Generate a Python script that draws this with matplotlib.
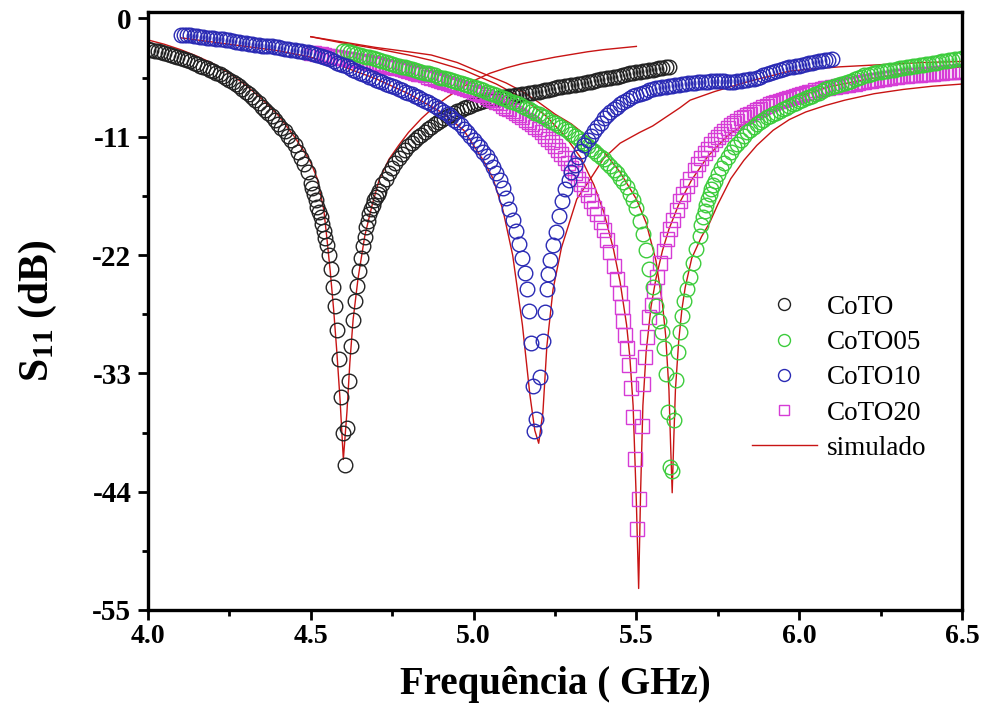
import numpy as np
import matplotlib
matplotlib.use("Agg")
import matplotlib.pyplot as plt

plt.rcParams['font.family'] = ['Liberation Serif', 'DejaVu Serif']
plt.rcParams['mathtext.fontset'] = 'custom'
plt.rcParams['mathtext.rm'] = 'Liberation Serif:bold'
plt.rcParams['mathtext.it'] = 'Liberation Serif:bold'
plt.rcParams['mathtext.bf'] = 'Liberation Serif:bold'
plt.rcParams['axes.unicode_minus'] = False

coto = [
    (4.00, -2.8), (4.01, -2.9), (4.02, -3.0), (4.03, -3.05), (4.04, -3.1), (4.05, -3.2), (4.06, -3.3),
    (4.07, -3.4), (4.08, -3.5), (4.09, -3.6), (4.10, -3.7), (4.11, -3.8), (4.12, -3.9), (4.13, -4.0),
    (4.14, -4.1), (4.15, -4.25), (4.16, -4.4), (4.17, -4.5), (4.18, -4.6), (4.19, -4.75), (4.20, -4.9),
    (4.21, -5.05), (4.22, -5.2), (4.23, -5.35), (4.24, -5.5), (4.25, -5.7), (4.26, -5.9), (4.27, -6.1),
    (4.28, -6.3), (4.29, -6.55), (4.30, -6.8), (4.31, -7.05), (4.32, -7.3), (4.33, -7.6), (4.34, -7.9),
    (4.35, -8.2), (4.36, -8.5), (4.37, -8.8), (4.38, -9.1), (4.39, -9.45), (4.40, -9.8), (4.41, -10.15),
    (4.42, -10.5), (4.43, -10.9), (4.44, -11.3), (4.45, -11.8), (4.46, -12.4), (4.47, -13.0), (4.48, -13.5),
    (4.49, -14.3), (4.50, -15.3), (4.505, -15.8), (4.51, -16.3), (4.515, -16.9), (4.52, -17.5), (4.525, -18.0),
    (4.53, -18.5), (4.535, -19.1), (4.54, -19.8), (4.545, -20.4), (4.55, -21.1), (4.556, -22.0), (4.562, -23.3),
    (4.568, -25.0), (4.574, -26.7), (4.58, -29.0), (4.586, -31.7), (4.592, -35.2), (4.598, -38.5), (4.604, -41.5),
    (4.610, -38.1), (4.617, -33.7), (4.623, -30.5), (4.630, -28.0), (4.636, -26.3), (4.642, -24.9), (4.648, -23.5),
    (4.654, -22.3), (4.660, -21.2), (4.665, -20.3), (4.670, -19.4), (4.675, -18.8), (4.680, -18.2), (4.685, -17.7),
    (4.690, -17.3), (4.695, -16.9), (4.700, -16.6), (4.705, -16.3), (4.710, -16.0), (4.72, -15.4), (4.73, -14.9),
    (4.74, -14.4), (4.75, -13.9), (4.76, -13.4), (4.77, -13.0), (4.78, -12.6), (4.79, -12.25), (4.80, -11.9),
    (4.81, -11.6), (4.82, -11.3), (4.83, -11.05), (4.84, -10.8), (4.85, -10.55), (4.86, -10.3), (4.87, -10.05),
    (4.88, -9.8), (4.89, -9.6), (4.90, -9.4), (4.91, -9.25), (4.92, -9.1), (4.93, -8.95), (4.94, -8.8),
    (4.95, -8.65), (4.96, -8.5), (4.97, -8.35), (4.98, -8.2), (4.99, -8.1), (5.00, -8.0), (5.01, -7.9),
    (5.02, -7.8), (5.03, -7.7), (5.04, -7.6), (5.05, -7.55), (5.06, -7.5), (5.07, -7.45), (5.08, -7.4),
    (5.09, -7.35), (5.10, -7.3), (5.11, -7.25), (5.12, -7.2), (5.13, -7.15), (5.14, -7.1), (5.15, -7.05),
    (5.16, -7.0), (5.17, -6.95), (5.18, -6.9), (5.19, -6.85), (5.20, -6.8), (5.21, -6.75), (5.22, -6.7),
    (5.23, -6.65), (5.24, -6.6), (5.25, -6.5), (5.26, -6.4), (5.27, -6.35), (5.28, -6.3), (5.29, -6.25),
    (5.30, -6.2), (5.31, -6.15), (5.32, -6.1), (5.33, -6.05), (5.34, -6.0), (5.35, -5.95), (5.36, -5.9),
    (5.37, -5.8), (5.38, -5.7), (5.39, -5.65), (5.40, -5.6), (5.41, -5.55), (5.42, -5.5), (5.43, -5.45),
    (5.44, -5.4), (5.45, -5.35), (5.46, -5.3), (5.47, -5.2), (5.48, -5.1), (5.49, -5.05), (5.50, -5.0),
    (5.51, -4.95), (5.52, -4.9), (5.53, -4.85), (5.54, -4.8), (5.55, -4.75), (5.56, -4.7), (5.57, -4.65),
    (5.58, -4.6), (5.59, -4.55), (5.60, -4.5),
]

coto05 = [
    (4.60, -3.0), (4.61, -3.05), (4.62, -3.1), (4.63, -3.2), (4.64, -3.3), (4.65, -3.4), (4.66, -3.5),
    (4.67, -3.55), (4.68, -3.6), (4.69, -3.7), (4.70, -3.8), (4.71, -3.9), (4.72, -4.0), (4.73, -4.05),
    (4.74, -4.1), (4.75, -4.2), (4.76, -4.3), (4.77, -4.4), (4.78, -4.5), (4.79, -4.55), (4.80, -4.6),
    (4.81, -4.7), (4.82, -4.8), (4.83, -4.9), (4.84, -5.0), (4.85, -5.05), (4.86, -5.1), (4.87, -5.2),
    (4.88, -5.3), (4.89, -5.4), (4.90, -5.5), (4.91, -5.55), (4.92, -5.6), (4.93, -5.7), (4.94, -5.8),
    (4.95, -5.9), (4.96, -6.0), (4.97, -6.1), (4.98, -6.2), (4.99, -6.3), (5.00, -6.4), (5.01, -6.5),
    (5.02, -6.6), (5.03, -6.7), (5.04, -6.8), (5.05, -6.9), (5.06, -7.0), (5.07, -7.15), (5.08, -7.3),
    (5.09, -7.4), (5.10, -7.5), (5.11, -7.65), (5.12, -7.8), (5.13, -7.9), (5.14, -8.0), (5.15, -8.15),
    (5.16, -8.3), (5.17, -8.45), (5.18, -8.6), (5.19, -8.75), (5.20, -8.9), (5.21, -9.05), (5.22, -9.2),
    (5.23, -9.4), (5.24, -9.6), (5.25, -9.75), (5.26, -9.9), (5.27, -10.1), (5.28, -10.3), (5.29, -10.5),
    (5.30, -10.7), (5.31, -10.9), (5.32, -11.1), (5.33, -11.35), (5.34, -11.6), (5.35, -11.85), (5.36, -12.1),
    (5.37, -12.35), (5.38, -12.6), (5.39, -12.85), (5.40, -13.1), (5.41, -13.4), (5.42, -13.7), (5.43, -14.05),
    (5.44, -14.4), (5.45, -14.8), (5.46, -15.2), (5.47, -15.7), (5.48, -16.3), (5.49, -16.9), (5.50, -17.6),
    (5.51, -18.8), (5.52, -20.0), (5.53, -21.5), (5.54, -23.3), (5.55, -25.0), (5.56, -26.7), (5.57, -28.1),
    (5.578, -29.2), (5.584, -30.6), (5.59, -33.1), (5.597, -36.6), (5.603, -41.7), (5.610, -42.1), (5.616, -37.3),
    (5.622, -33.6), (5.628, -31.0), (5.634, -29.2), (5.640, -27.7), (5.646, -26.3), (5.654, -25.2), (5.664, -24.0),
    (5.674, -22.7), (5.684, -21.4), (5.694, -20.2), (5.70, -19.2), (5.705, -18.5), (5.71, -17.9), (5.715, -17.3),
    (5.72, -16.8), (5.725, -16.3), (5.73, -15.9), (5.735, -15.5), (5.74, -15.1), (5.75, -14.5), (5.76, -13.9),
    (5.77, -13.4), (5.78, -12.9), (5.79, -12.45), (5.80, -12.0), (5.81, -11.65), (5.82, -11.3), (5.83, -10.95),
    (5.84, -10.6), (5.85, -10.35), (5.86, -10.1), (5.87, -9.85), (5.88, -9.6), (5.89, -9.4), (5.90, -9.2),
    (5.91, -9.05), (5.92, -8.9), (5.93, -8.75), (5.94, -8.6), (5.95, -8.45), (5.96, -8.3), (5.97, -8.15),
    (5.98, -8.0), (5.99, -7.85), (6.00, -7.7), (6.01, -7.55), (6.02, -7.4), (6.03, -7.3), (6.04, -7.2),
    (6.05, -7.05), (6.06, -6.9), (6.07, -6.75), (6.08, -6.6), (6.09, -6.5), (6.10, -6.4), (6.11, -6.3),
    (6.12, -6.2), (6.13, -6.1), (6.14, -6.0), (6.15, -5.9), (6.16, -5.8), (6.17, -5.65), (6.18, -5.5),
    (6.19, -5.4), (6.20, -5.3), (6.21, -5.25), (6.22, -5.2), (6.23, -5.1), (6.24, -5.0), (6.25, -4.95),
    (6.26, -4.9), (6.27, -4.85), (6.28, -4.8), (6.29, -4.75), (6.30, -4.7), (6.31, -4.65), (6.32, -4.6),
    (6.33, -4.55), (6.34, -4.5), (6.35, -4.45), (6.36, -4.4), (6.37, -4.35), (6.38, -4.3), (6.39, -4.25),
    (6.40, -4.2), (6.41, -4.15), (6.42, -4.1), (6.43, -4.05), (6.44, -4.0), (6.45, -3.95), (6.46, -3.9),
    (6.47, -3.85), (6.48, -3.8), (6.49, -3.75), (6.50, -3.7),
]

coto10 = [
    (4.10, -1.5), (4.11, -1.52), (4.12, -1.55), (4.13, -1.58), (4.14, -1.6), (4.15, -1.65), (4.16, -1.7),
    (4.17, -1.75), (4.18, -1.8), (4.19, -1.82), (4.20, -1.85), (4.21, -1.88), (4.22, -1.9), (4.23, -1.95),
    (4.24, -2.0), (4.25, -2.05), (4.26, -2.1), (4.27, -2.15), (4.28, -2.2), (4.29, -2.25), (4.30, -2.3),
    (4.31, -2.35), (4.32, -2.4), (4.33, -2.45), (4.34, -2.5), (4.35, -2.52), (4.36, -2.55), (4.37, -2.58),
    (4.38, -2.6), (4.39, -2.65), (4.40, -2.7), (4.41, -2.75), (4.42, -2.8), (4.43, -2.85), (4.44, -2.9),
    (4.45, -2.95), (4.46, -3.0), (4.47, -3.05), (4.48, -3.1), (4.49, -3.15), (4.50, -3.2), (4.51, -3.3),
    (4.52, -3.4), (4.53, -3.5), (4.54, -3.6), (4.55, -3.7), (4.56, -3.8), (4.57, -3.95), (4.58, -4.1),
    (4.59, -4.2), (4.60, -4.3), (4.61, -4.45), (4.62, -4.6), (4.63, -4.75), (4.64, -4.9), (4.65, -5.05),
    (4.66, -5.2), (4.67, -5.3), (4.68, -5.4), (4.69, -5.55), (4.70, -5.7), (4.71, -5.8), (4.72, -5.9),
    (4.73, -6.05), (4.74, -6.2), (4.75, -6.3), (4.76, -6.4), (4.77, -6.55), (4.78, -6.7), (4.79, -6.8),
    (4.80, -6.9), (4.81, -7.05), (4.82, -7.2), (4.83, -7.35), (4.84, -7.5), (4.85, -7.65), (4.86, -7.8),
    (4.87, -7.95), (4.88, -8.1), (4.89, -8.3), (4.90, -8.5), (4.91, -8.7), (4.92, -8.9), (4.93, -9.15),
    (4.94, -9.4), (4.95, -9.65), (4.96, -9.9), (4.97, -10.25), (4.98, -10.6), (4.99, -10.95), (5.00, -11.3),
    (5.01, -11.65), (5.02, -12.0), (5.03, -12.4), (5.04, -12.8), (5.05, -13.3), (5.06, -13.8), (5.07, -14.4),
    (5.08, -15.0), (5.09, -15.8), (5.10, -16.7), (5.11, -17.7), (5.12, -18.7), (5.13, -19.8), (5.14, -21.0),
    (5.15, -22.3), (5.158, -23.7), (5.165, -25.2), (5.171, -27.2), (5.177, -30.2), (5.182, -34.2), (5.186, -38.4),
    (5.193, -37.2), (5.205, -33.3), (5.212, -30.0), (5.218, -27.3), (5.224, -25.2), (5.230, -23.8), (5.236, -22.5),
    (5.244, -21.1), (5.252, -19.9), (5.262, -18.4), (5.272, -17.0), (5.282, -15.9), (5.292, -15.0), (5.30, -14.3),
    (5.31, -13.6), (5.32, -12.9), (5.33, -12.3), (5.34, -11.8), (5.35, -11.3), (5.36, -10.9), (5.37, -10.5),
    (5.38, -10.1), (5.39, -9.7), (5.40, -9.3), (5.41, -9.0), (5.42, -8.7), (5.43, -8.45), (5.44, -8.2),
    (5.45, -8.0), (5.46, -7.8), (5.47, -7.6), (5.48, -7.4), (5.49, -7.25), (5.50, -7.1), (5.51, -7.0),
    (5.52, -6.9), (5.53, -6.8), (5.54, -6.7), (5.55, -6.6), (5.56, -6.5), (5.57, -6.45), (5.58, -6.4),
    (5.59, -6.35), (5.60, -6.3), (5.61, -6.25), (5.62, -6.2), (5.63, -6.15), (5.64, -6.1), (5.65, -6.05),
    (5.66, -6.0), (5.67, -6.0), (5.68, -6.0), (5.69, -5.95), (5.70, -5.9), (5.71, -5.9), (5.72, -5.9),
    (5.73, -5.85), (5.74, -5.8), (5.75, -5.8), (5.76, -5.8), (5.77, -5.85), (5.78, -5.9), (5.79, -5.9),
    (5.80, -5.9), (5.81, -5.85), (5.82, -5.8), (5.83, -5.75), (5.84, -5.7), (5.85, -5.65), (5.86, -5.6),
    (5.87, -5.5), (5.88, -5.4), (5.89, -5.3), (5.90, -5.2), (5.91, -5.1), (5.92, -5.0), (5.93, -4.9),
    (5.94, -4.8), (5.95, -4.7), (5.96, -4.6), (5.97, -4.55), (5.98, -4.5), (5.99, -4.45), (6.00, -4.4),
    (6.01, -4.3), (6.02, -4.2), (6.03, -4.15), (6.04, -4.1), (6.05, -4.05), (6.06, -4.0), (6.07, -3.95),
    (6.08, -3.9), (6.09, -3.85), (6.10, -3.8),
]

coto20 = [
    (4.50, -3.2), (4.51, -3.25), (4.52, -3.3), (4.53, -3.35), (4.54, -3.4), (4.55, -3.45), (4.56, -3.5),
    (4.57, -3.55), (4.58, -3.6), (4.59, -3.65), (4.60, -3.7), (4.61, -3.75), (4.62, -3.8), (4.63, -3.85),
    (4.64, -3.9), (4.65, -3.95), (4.66, -4.0), (4.67, -4.05), (4.68, -4.1), (4.69, -4.15), (4.70, -4.2),
    (4.71, -4.25), (4.72, -4.3), (4.73, -4.4), (4.74, -4.5), (4.75, -4.55), (4.76, -4.6), (4.77, -4.65),
    (4.78, -4.7), (4.79, -4.8), (4.80, -4.9), (4.81, -5.0), (4.82, -5.1), (4.83, -5.15), (4.84, -5.2),
    (4.85, -5.3), (4.86, -5.4), (4.87, -5.5), (4.88, -5.6), (4.89, -5.7), (4.90, -5.8), (4.91, -5.9),
    (4.92, -6.0), (4.93, -6.1), (4.94, -6.2), (4.95, -6.3), (4.96, -6.4), (4.97, -6.5), (4.98, -6.6),
    (4.99, -6.7), (5.00, -6.8), (5.01, -6.9), (5.02, -7.0), (5.03, -7.15), (5.04, -7.3), (5.05, -7.45),
    (5.06, -7.6), (5.07, -7.75), (5.08, -7.9), (5.09, -8.1), (5.10, -8.3), (5.11, -8.45), (5.12, -8.6),
    (5.13, -8.8), (5.14, -9.0), (5.15, -9.2), (5.16, -9.4), (5.17, -9.6), (5.18, -9.8), (5.19, -10.05),
    (5.20, -10.3), (5.21, -10.6), (5.22, -10.9), (5.23, -11.2), (5.24, -11.5), (5.25, -11.85), (5.26, -12.2),
    (5.27, -12.6), (5.28, -13.0), (5.29, -13.45), (5.30, -13.9), (5.31, -14.4), (5.32, -14.9), (5.33, -15.4),
    (5.34, -15.9), (5.35, -16.45), (5.36, -17.0), (5.37, -17.6), (5.38, -18.2), (5.39, -18.9), (5.40, -19.7),
    (5.41, -20.6), (5.42, -21.7), (5.43, -23.0), (5.44, -24.2), (5.45, -25.5), (5.455, -26.8), (5.46, -28.1),
    (5.466, -29.4), (5.471, -30.6), (5.477, -32.2), (5.484, -34.4), (5.49, -37.1), (5.497, -41.0), (5.503, -47.5),
    (5.509, -44.7), (5.516, -37.9), (5.521, -34.0), (5.527, -31.5), (5.533, -29.6), (5.540, -27.8), (5.547, -26.6),
    (5.555, -25.3), (5.564, -24.0), (5.574, -22.7), (5.584, -21.6), (5.594, -20.5), (5.604, -19.6), (5.614, -18.7),
    (5.624, -17.8), (5.634, -17.0), (5.644, -16.3), (5.654, -15.6), (5.666, -14.9), (5.68, -14.1), (5.69, -13.55),
    (5.70, -13.0), (5.71, -12.55), (5.72, -12.1), (5.73, -11.7), (5.74, -11.3), (5.75, -11.0), (5.76, -10.7),
    (5.77, -10.45), (5.78, -10.2), (5.79, -9.95), (5.80, -9.7), (5.81, -9.5), (5.82, -9.3), (5.83, -9.15),
    (5.84, -9.0), (5.85, -8.85), (5.86, -8.7), (5.87, -8.55), (5.88, -8.4), (5.89, -8.25), (5.90, -8.1),
    (5.91, -8.0), (5.92, -7.9), (5.93, -7.8), (5.94, -7.7), (5.95, -7.6), (5.96, -7.5), (5.97, -7.4),
    (5.98, -7.3), (5.99, -7.2), (6.00, -7.1), (6.01, -7.0), (6.02, -6.95), (6.03, -6.85), (6.04, -6.8),
    (6.05, -6.7), (6.06, -6.65), (6.07, -6.55), (6.08, -6.5), (6.09, -6.45), (6.10, -6.4), (6.11, -6.35),
    (6.12, -6.3), (6.13, -6.25), (6.14, -6.2), (6.15, -6.15), (6.16, -6.1), (6.17, -6.05), (6.18, -6.0),
    (6.19, -5.95), (6.20, -5.9), (6.21, -5.85), (6.22, -5.8), (6.23, -5.75), (6.24, -5.7), (6.25, -5.65),
    (6.26, -5.6), (6.27, -5.55), (6.28, -5.5), (6.29, -5.45), (6.30, -5.4), (6.31, -5.38), (6.32, -5.35),
    (6.33, -5.32), (6.34, -5.3), (6.35, -5.28), (6.36, -5.25), (6.37, -5.22), (6.38, -5.2), (6.39, -5.18),
    (6.40, -5.15), (6.41, -5.12), (6.42, -5.1), (6.43, -5.08), (6.44, -5.05), (6.45, -5.02), (6.46, -5.0),
    (6.47, -4.98), (6.48, -4.95), (6.49, -4.92), (6.50, -4.9),
]

# simulated curves
sim_coto = [
    (4.00, -2.0), (4.05, -2.4), (4.10, -2.9), (4.15, -3.5), (4.20, -4.2), (4.25, -5.1), (4.30, -6.2),
    (4.35, -7.5), (4.40, -9.0), (4.45, -11.0), (4.48, -12.4), (4.50, -13.4), (4.52, -14.9), (4.54, -17.8),
    (4.55, -20.6), (4.56, -23.6), (4.57, -27.0), (4.58, -31.0), (4.59, -35.5), (4.60, -41.0), (4.611, -36.6),
    (4.62, -32.0), (4.63, -28.0), (4.645, -24.2), (4.666, -20.2), (4.688, -17.4), (4.71, -15.0), (4.74, -13.1),
    (4.77, -11.8), (4.80, -10.6), (4.84, -9.3), (4.88, -8.2), (4.92, -7.3), (4.96, -6.5), (5.00, -5.8),
    (5.05, -5.1), (5.10, -4.6), (5.15, -4.2), (5.20, -3.9), (5.25, -3.6), (5.30, -3.35), (5.35, -3.1),
    (5.40, -2.9), (5.45, -2.75), (5.50, -2.6),
]
sim_coto05 = [
    (4.50, -1.7), (4.60, -2.2), (4.70, -2.7), (4.80, -3.1), (4.87, -3.4), (4.95, -4.1), (5.02, -5.0),
    (5.10, -6.0), (5.15, -6.8), (5.20, -7.8), (5.25, -8.9), (5.30, -9.8), (5.35, -11.0), (5.40, -12.4),
    (5.45, -14.3), (5.50, -16.8), (5.53, -19.0), (5.56, -22.5), (5.58, -26.5), (5.59, -29.5), (5.60, -34.5),
    (5.605, -39.5), (5.61, -44.1), (5.615, -39.0), (5.62, -34.5), (5.63, -30.0), (5.64, -27.0), (5.65, -25.0),
    (5.67, -22.3), (5.70, -20.3), (5.725, -19.0), (5.75, -17.3), (5.79, -14.9), (5.83, -13.2), (5.87, -11.8),
    (5.92, -10.4), (5.97, -9.4), (6.02, -8.7), (6.08, -8.1), (6.14, -7.6), (6.23, -7.0), (6.32, -6.6),
    (6.41, -6.3), (6.50, -6.1),
]
sim_coto10 = [
    (4.10, -1.8), (4.20, -2.2), (4.30, -2.6), (4.40, -3.0), (4.50, -3.6), (4.60, -4.5), (4.70, -5.6),
    (4.80, -7.0), (4.90, -8.7), (4.97, -10.4), (5.03, -13.2), (5.06, -14.9), (5.09, -17.8), (5.12, -22.0),
    (5.15, -28.5), (5.173, -35.0), (5.188, -38.3), (5.20, -39.5), (5.213, -36.6), (5.225, -30.5), (5.244, -25.2),
    (5.27, -21.3), (5.317, -16.8), (5.357, -15.0), (5.40, -13.0), (5.45, -11.6), (5.51, -10.6), (5.55, -10.0),
    (5.634, -8.3), (5.665, -7.6), (5.74, -6.8), (5.84, -5.9), (5.97, -4.9), (6.04, -4.7), (6.125, -4.5),
    (6.25, -4.3), (6.38, -4.1), (6.50, -4.0),
]
sim_coto20 = [
    (4.50, -1.7), (4.60, -2.3), (4.70, -2.8), (4.80, -3.4), (4.87, -3.9), (4.97, -4.8), (5.07, -6.1),
    (5.15, -7.4), (5.22, -9.0), (5.28, -10.9), (5.33, -13.0), (5.37, -15.5), (5.40, -18.0), (5.43, -21.5),
    (5.45, -24.5), (5.47, -28.5), (5.48, -31.5), (5.49, -36.0), (5.50, -45.0), (5.507, -53.0), (5.513, -44.0),
    (5.52, -36.0), (5.53, -31.0), (5.545, -26.8), (5.56, -24.2), (5.58, -21.6), (5.60, -19.6), (5.63, -17.3),
    (5.67, -15.0), (5.72, -12.8), (5.78, -10.9), (5.85, -9.4), (5.92, -8.2), (6.00, -7.2), (6.10, -6.3),
    (6.20, -5.7), (6.30, -5.2), (6.40, -4.8), (6.50, -4.5),
]

ticks_y = [0, -11, -22, -33, -44, -55]
ticks_x = [4.0, 4.5, 5.0, 5.5, 6.0, 6.5]

fig = plt.figure(figsize=(9.84, 7.26), dpi=100)
ax = fig.add_axes([0.1504, 0.1598, 0.8272, 0.8237])

red = '#c81414'
for i, sim in enumerate([sim_coto, sim_coto05, sim_coto10, sim_coto20]):
    f, s = zip(*sim)
    ax.plot(f, s, color=red, lw=1.0, zorder=1, label='simulado' if i == 0 else None)

mk = dict(ls='none', mfc='none', mew=1.0, zorder=2)
series = [
    (coto, 'o', 10.5, '#222222', 'CoTO'),
    (coto20, 's', 9.5, '#d63cd6', 'CoTO20'),
    (coto05, 'o', 10.5, '#3ccc3c', 'CoTO05'),
    (coto10, 'o', 10.5, '#2a2ab4', 'CoTO10'),
]
for data, m, ms, col, name in series:
    f, s = zip(*data)
    ax.plot(f, s, marker=m, ms=ms, mec=col, label=name, **mk)

ax.set_xlim(4.0, 6.5)
ax.set_ylim(-55, 0.6)
ax.set_xticks(ticks_x)
ax.set_xticklabels(['%.1f' % t for t in ticks_x])
ax.set_yticks(ticks_y)
ax.set_xticks(np.arange(4.25, 6.5, 0.5), minor=True)
ax.set_yticks(np.arange(-49.5, 0, 11), minor=True)

for sp in ax.spines.values():
    sp.set_linewidth(2.4)
ax.tick_params(which='major', direction='out', length=7, width=2.0, labelsize=20, pad=3)
ax.tick_params(which='minor', direction='out', length=4.5, width=2.0)
ax.tick_params(axis='y', which='major', labelsize=21, pad=5)
for lab in ax.get_xticklabels() + ax.get_yticklabels():
    lab.set_fontweight('bold')

ax.set_xlabel('Frequência ( GHz)', fontsize=28, fontweight='bold', labelpad=12)
ax.set_ylabel(r'S$_{11}$ (dB)', fontsize=30, fontweight='bold', labelpad=24)

handles, labels = ax.get_legend_handles_labels()
order = [labels.index(n) for n in ['CoTO', 'CoTO05', 'CoTO10', 'CoTO20', 'simulado']]
ax.legend([handles[i] for i in order], [labels[i] for i in order],
          loc='upper left', bbox_to_anchor=(0.712, 0.568), frameon=False,
          fontsize=19.5, markerscale=0.82, handlelength=2.4, labelspacing=0.38,
          handletextpad=0.35)

fig.savefig('out.png', dpi=100)
